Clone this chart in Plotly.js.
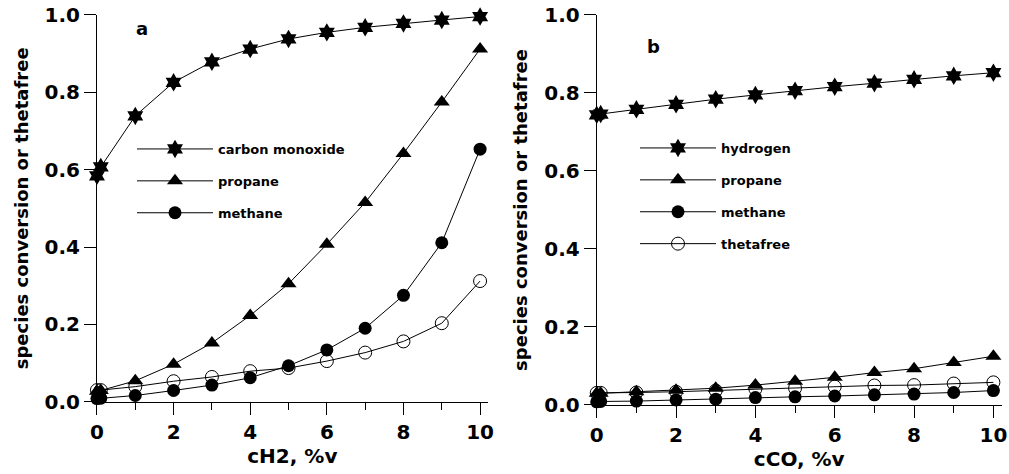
<!DOCTYPE html>
<html>
<head>
<meta charset="utf-8">
<script src="https://cdn.plot.ly/plotly-3.0.1.min.js"></script>
<style>html,body{margin:0;padding:0;background:#fff;}#chart{width:1009px;height:474px;}</style>
</head>
<body>
<div id="chart"></div>
<script>
// ---- data ----
const xH2 = [0, 0.1, 1, 2, 3, 4, 5, 6, 7, 8, 9, 10];           // cH2, %v (panel a)
const coA = [0.584, 0.607, 0.739, 0.826, 0.879, 0.912, 0.938, 0.955, 0.968, 0.978, 0.987, 0.996];
const propaneA = [0.027, 0.029, 0.054, 0.097, 0.152, 0.223, 0.305, 0.407, 0.515, 0.642, 0.775, 0.912];
const methaneA = [0.008, 0.009, 0.016, 0.029, 0.043, 0.062, 0.093, 0.134, 0.190, 0.275, 0.411, 0.653];
const thetaA = [0.030, 0.030, 0.039, 0.053, 0.064, 0.079, 0.087, 0.105, 0.127, 0.156, 0.203, 0.312];

const xCO = [0, 0.1, 1, 2, 3, 4, 5, 6, 7, 8, 9, 10];           // cCO, %v (panel b)
const hydrogenB = [0.744, 0.746, 0.758, 0.771, 0.784, 0.795, 0.806, 0.816, 0.825, 0.835, 0.844, 0.852];
const propaneB = [0.030, 0.030, 0.034, 0.038, 0.043, 0.051, 0.061, 0.071, 0.083, 0.093, 0.109, 0.125];
const methaneB = [0.008, 0.009, 0.010, 0.013, 0.015, 0.019, 0.021, 0.023, 0.026, 0.028, 0.032, 0.037];
const thetaB = [0.031, 0.031, 0.032, 0.034, 0.037, 0.041, 0.043, 0.047, 0.050, 0.051, 0.055, 0.058];

const namesA = ['carbon monoxide', 'propane', 'methane', 'thetafree'];
const namesB = ['hydrogen', 'propane', 'methane', 'thetafree'];
const yTickVals = [0, 0.2, 0.4, 0.6, 0.8, 1.0];
const xTickVals = [0, 2, 4, 6, 8, 10];
const xTitleA = 'cH2, %v';
const xTitleB = 'cCO, %v';
const yTitle = 'species conversion or thetafree';
const panelLabels = ['a', 'b'];

// ---- styles ----
const FONT = 'DejaVu Sans';
const lineStyle = {color: '#000', width: 1};
const mStar = {symbol: 'hexagram', size: 14, color: '#000'};
const mTri = {symbol: 'triangle-up', size: 14, color: '#000'};
const mDot = {symbol: 'circle', size: 13, color: '#000'};
const mOpen = {symbol: 'circle-open', size: 13, color: '#000', line: {width: 1, color: '#000'}};

function tr(x, y, name, marker, xa, ya, legend, show, group) {
  return {x: x, y: y, name: name, type: 'scatter', mode: 'lines+markers',
    line: lineStyle, marker: marker, xaxis: xa, yaxis: ya, cliponaxis: false,
    legend: legend, showlegend: show, legendgroup: group};
}

const data = [
  tr(xH2, coA, namesA[0], mStar, 'x', 'y', 'legend', true, 'a1'),
  tr(xH2, propaneA, namesA[1], mTri, 'x', 'y', 'legend', true, 'a2'),
  tr(xH2, thetaA, namesA[3], mOpen, 'x', 'y', 'legend', false, 'a4'),
  tr(xH2, methaneA, namesA[2], mDot, 'x', 'y', 'legend', true, 'a3'),
  tr(xCO, hydrogenB, namesB[0], mStar, 'x2', 'y2', 'legend2', true, 'b1'),
  tr(xCO, propaneB, namesB[1], mTri, 'x2', 'y2', 'legend2', true, 'b2'),
  tr(xCO, methaneB, namesB[2], mDot, 'x2', 'y2', 'legend2', true, 'b3'),
  tr(xCO, thetaB, namesB[3], mOpen, 'x2', 'y2', 'legend2', true, 'b4')
];

const tickFont = {family: FONT, size: 20, color: '#000', weight: 'bold'};
const titleFont = {family: FONT, size: 20, color: '#000', weight: 'bold'};

function xAxis(domain, rng, title) {
  return {domain: domain, range: rng, showline: true, linecolor: '#000', linewidth: 1,
    ticks: 'outside', ticklen: 12, tickwidth: 1, tickcolor: '#000',
    tickvals: xTickVals, tickfont: tickFont, showgrid: false, zeroline: false,
    minor: {ticks: 'outside', dtick: 1, ticklen: 7, tickcolor: '#000', tickwidth: 1, showgrid: false},
    title: {text: title, font: titleFont, standoff: 3}, fixedrange: true};
}
function yAxis(domain, anchor) {
  return {domain: domain, range: [0, 1], anchor: anchor, showline: true, linecolor: '#000', linewidth: 1,
    ticks: 'outside', ticklen: 12, tickwidth: 1, tickcolor: '#000',
    tickvals: yTickVals, tickformat: '.1f', tickfont: tickFont, showgrid: false, zeroline: false,
    title: {text: yTitle, font: {family: FONT, size: 18, color: '#000', weight: 'bold'}, standoff: 11},
    fixedrange: true};
}

const legendBase = {bgcolor: 'rgba(0,0,0,0)', borderwidth: 0, itemwidth: 76, traceorder: 'grouped',
  tracegroupgap: 12, font: {family: FONT, size: 13, color: '#000', weight: 'bold'},
  xanchor: 'left', yanchor: 'top', itemclick: false, itemdoubleclick: false};

const layout = {
  width: 1009, height: 474,
  margin: {l: 0, r: 0, t: 0, b: 0},
  paper_bgcolor: '#fff', plot_bgcolor: '#fff',
  showlegend: true,
  xaxis: Object.assign(xAxis([0.0961, 0.4834], [0, 10.2], xTitleA), {anchor: 'y'}),
  yaxis: Object.assign(yAxis([0.1525, 0.9684], 'x')),
  xaxis2: Object.assign(xAxis([0.5914, 0.9928], [0, 10.21], xTitleB), {anchor: 'y2'}),
  yaxis2: Object.assign(yAxis([0.1456, 0.9684], 'x2')),
  legend: Object.assign({}, legendBase, {x: 132 / 1009, y: 1 - 134 / 474}),
  legend2: Object.assign({}, legendBase, {x: 635 / 1009, y: 1 - 133 / 474}),
  annotations: [
    {xref: 'x', yref: 'y', x: 1.17, y: 0.964, text: panelLabels[0], showarrow: false,
      font: {family: FONT, size: 18, color: '#000', weight: 'bold'}},
    {xref: 'x2', yref: 'y2', x: 1.42, y: 0.92, text: panelLabels[1], showarrow: false,
      font: {family: FONT, size: 18, color: '#000', weight: 'bold'}}
  ]
};

Plotly.newPlot('chart', data, layout, {staticPlot: true, displayModeBar: false});
</script>
</body>
</html>
